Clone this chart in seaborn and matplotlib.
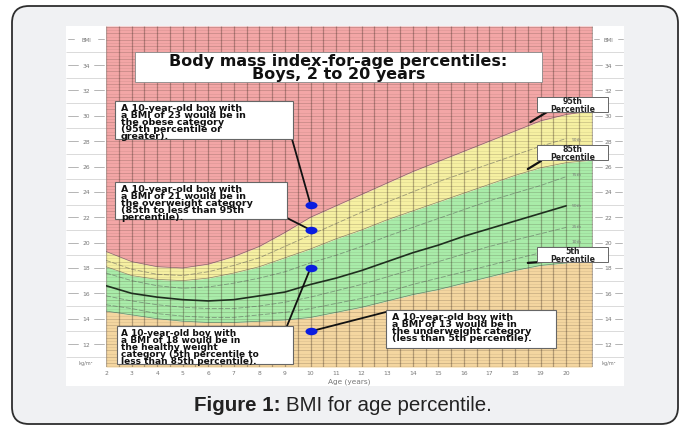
import numpy as np
import pandas as pd
import seaborn as sns
import matplotlib.pyplot as plt
from matplotlib.patches import FancyBboxPatch, Rectangle
from matplotlib.path import Path
from matplotlib.transforms import Affine2D

sns.set_style("white")
plt.rcParams["font.family"] = ["DejaVu Sans"]

# percentile band boundaries (boys BMI-for-age)
age = [2, 3, 4, 5, 6, 7, 8, 9, 10, 11, 12, 13, 14, 15, 16, 17, 18, 19, 20, 21]
p95 = [19.3, 18.5, 18.1, 18.0, 18.3, 18.9, 19.7, 20.8, 22.0, 22.9, 23.8, 24.7, 25.6, 26.4, 27.2, 28.0, 28.8, 29.6, 30.1, 30.4]
p85 = [18.1, 17.4, 17.1, 17.0, 17.2, 17.6, 18.1, 18.8, 19.5, 20.3, 21.0, 21.8, 22.5, 23.2, 23.9, 24.6, 25.3, 25.9, 26.3, 26.5]
p5 = [14.6, 14.3, 14.0, 13.8, 13.7, 13.7, 13.8, 13.9, 14.1, 14.5, 14.9, 15.4, 15.9, 16.3, 16.8, 17.3, 17.8, 18.2, 18.4, 18.6]

# inner percentile lines (end at age 20)
age_line = [2, 3, 4, 5, 6, 7, 8, 9, 10, 11, 12, 13, 14, 15, 16, 17, 18, 19, 20]
p50 = [16.6, 16.0, 15.7, 15.5, 15.4, 15.5, 15.8, 16.1, 16.7, 17.2, 17.8, 18.5, 19.2, 19.8, 20.5, 21.1, 21.7, 22.3, 22.9]
p90 = [18.6, 17.9, 17.5, 17.4, 17.7, 18.2, 18.8, 19.7, 20.6, 21.5, 22.4, 23.2, 24.0, 24.8, 25.5, 26.2, 26.9, 27.6, 28.2]
p75 = [17.6, 17.0, 16.6, 16.4, 16.5, 16.8, 17.2, 17.7, 18.4, 19.0, 19.7, 20.5, 21.2, 21.9, 22.6, 23.3, 23.9, 24.5, 25.2]
p25 = [15.8, 15.4, 15.1, 14.9, 14.8, 14.8, 15.0, 15.3, 15.7, 16.2, 16.7, 17.3, 17.9, 18.5, 19.1, 19.7, 20.2, 20.7, 21.2]
p10 = [15.1, 14.8, 14.4, 14.2, 14.1, 14.1, 14.3, 14.5, 14.8, 15.2, 15.6, 16.1, 16.7, 17.2, 17.7, 18.2, 18.7, 19.2, 19.6]
inner_names = ["90th", "75th", "50th", "25th", "10th"]
inner_label_bmi = [28.2, 25.4, 23.0, 21.3, 20.1]

# example boys at age 10
dot_age = [10, 10, 10, 10]
dot_bmi = [23, 21, 18, 13]

bmi_ticks = [12, 14, 16, 18, 20, 22, 24, 26, 28, 30, 32, 34]
age_ticks = list(range(2, 21))

notes = [
    "A 10-year-old boy with\na BMI of 23 would be in\nthe obese category\n(95th percentile or\ngreater).",
    "A 10-year-old boy with\na BMI of 21 would be in\nthe overweight category\n(85th to less than 95th\npercentile).",
    "A 10-year-old boy with\na BMI of 18 would be in\nthe healthy weight\ncategory (5th percentile to\nless than 85th percentile).",
    "A 10-year-old boy with\na BMI of 13 would be in\nthe underweight category\n(less than 5th percentile).",
]
pct_labels = ["95th\nPercentile", "85th\nPercentile", "5th\nPercentile"]

W, H = 683, 427
XMIN, XMAX = 2, 21.05
YMIN, YMAX = 10.19, 37.08
PL, PR, PT, PB = 106, 593, 27, 368

fig = plt.figure(figsize=(6.83, 4.27), dpi=100)
fig.patch.set_facecolor("white")

card = FancyBboxPatch((0.12, 0.02), 6.66, 4.18, boxstyle="round,pad=0,rounding_size=0.17",
                      transform=fig.dpi_scale_trans, fc="#f0f1f3", ec="#2e2e2e", lw=1.3, zorder=-2)
fig.add_artist(card)
fig.add_artist(Rectangle((0.66, 0.40), 5.58, 3.60, transform=fig.dpi_scale_trans, fc="white",
                         ec="none", zorder=-1))


def fig_rect(x0, x1):
    return [x0 / W, 1 - PB / H, (x1 - x0) / W, (PB - PT) / H]


def ax_pos(x, y):
    return (x - PL) / (PR - PL), (PB - y) / (PB - PT)


ax = fig.add_axes(fig_rect(PL, PR))
ax_l = fig.add_axes(fig_rect(66, PL))
ax_r = fig.add_axes(fig_rect(PR, 624))
for a in [ax, ax_l, ax_r]:
    a.set_facecolor("none")
ax.set_zorder(2)

# coloured bands
red, yellow, green, tan = "#f3a6a6", "#f6f0a2", "#a9eca9", "#f4d6a0"
ax.fill_between(age, YMIN, p5, color=tan, lw=0, zorder=1)
ax.fill_between(age, p5, p85, color=green, lw=0, zorder=1)
ax.fill_between(age, p85, p95, color=yellow, lw=0, zorder=1)
ax.fill_between(age, p95, YMAX, color=red, lw=0, zorder=1)

# chart grid
ax.vlines(np.arange(2, 21.01, 0.5), YMIN, YMAX, color="#3a2a20", alpha=0.35, lw=0.9, zorder=2)
ax.hlines(np.arange(10.5, 37.01, 0.5), XMIN, XMAX, color="#3a2a20", alpha=0.22, lw=0.6, zorder=2)
ax.hlines(np.arange(10.25, 37.01, 0.5), XMIN, XMAX, color="#3a2a20", alpha=0.10, lw=0.5, zorder=2)

# percentile curves
for vals in [p95, p85, p5]:
    sns.lineplot(x=age, y=vals, ax=ax, color="#444444", lw=0.5, alpha=0.6, zorder=3)
for vals in [p90, p75, p25, p10]:
    sns.lineplot(x=age_line, y=vals, ax=ax, color="#555555", lw=0.6, alpha=0.55,
                 linestyle=(0, (6, 2)), zorder=3)
sns.lineplot(x=age_line, y=p50, ax=ax, color="#1f2f1f", lw=1.2, zorder=3)
for yv, name in zip(inner_label_bmi, inner_names):
    ax.text(20.4, yv, name, fontsize=3.2, color="#777777", ha="center", va="center", zorder=3)


# annotation boxes
def note_box(x0, y0, x1, y1, text, tx, ty, fs=6.8):
    a0, b0 = ax_pos(x0, y1)
    a1, b1 = ax_pos(x1, y0)
    ax.add_patch(Rectangle((a0, b0), a1 - a0, b1 - b0, transform=ax.transAxes, fc="white",
                           ec="#666666", lw=0.8, zorder=6, clip_on=False))
    ta, tb = ax_pos(tx, ty)
    ax.text(ta, tb, text, transform=ax.transAxes, fontsize=fs, fontweight="bold", color="#111111",
            ha="left", va="top", linespacing=0.7, zorder=7, clip_on=False)


def leader(px, py, xd, yd, lw=1.3):
    ax.annotate("", xy=(xd, yd), xycoords="data", xytext=ax_pos(px, py), textcoords="axes fraction",
                arrowprops=dict(arrowstyle="-", color="#111111", lw=lw, shrinkA=0, shrinkB=0), zorder=5)


note_box(115, 102, 293, 140, notes[0], 121, 104)
note_box(115, 183, 287, 220, notes[1], 121, 185)
note_box(117, 327, 293, 365, notes[2], 121, 329, fs=6.5)
note_box(386, 311, 556, 349, notes[3], 392, 313)
leader(292, 140, dot_age[0], dot_bmi[0])
leader(287, 219, dot_age[1], dot_bmi[1])
leader(287, 327, dot_age[2], dot_bmi[2])
leader(386, 313, dot_age[3], dot_bmi[3])

# title box
ta0, tb0 = ax_pos(135, 83)
ta1, tb1 = ax_pos(542, 53)
ax.add_patch(Rectangle((ta0, tb0), ta1 - ta0, tb1 - tb0, transform=ax.transAxes, fc="white",
                       ec="#888888", lw=0.6, zorder=6))
ax.text((ta0 + ta1) / 2, (tb0 + tb1) / 2, "Body mass index-for-age percentiles:\nBoys, 2 to 20 years",
        transform=ax.transAxes, ha="center", va="center", fontsize=11.5, fontweight="bold",
        color="#111111", linespacing=0.8, zorder=7)

# percentile tags
for lab, yc, seg in zip(pct_labels, [105.5, 153.5, 255.5],
                        [((547, 113), (18.6, 29.5)), ((541, 162), (18.5, 25.8)), ((541, 263), (18.5, 18.4))]):
    a0, b0 = ax_pos(537, yc + 7.5)
    a1, b1 = ax_pos(608, yc - 7.5)
    ax.add_patch(Rectangle((a0, b0), a1 - a0, b1 - b0, transform=ax.transAxes, fc="white",
                           ec="#666666", lw=0.7, zorder=6, clip_on=False))
    ax.text((a0 + a1) / 2, (b0 + b1) / 2, lab, transform=ax.transAxes, ha="center", va="center",
            fontsize=5.6, fontweight="bold", color="#222222", linespacing=0.8, zorder=7, clip_on=False)
    leader(seg[0][0], seg[0][1], seg[1][0], seg[1][1], lw=1.6)

# blue dots (slightly wide ellipse marker)
ell = Path.unit_circle().transformed(Affine2D().scale(1.0, 0.62))
sns.scatterplot(x=dot_age, y=dot_bmi, ax=ax, marker=ell, s=75, color="#0b1de0", edgecolor="#0b1de0",
                linewidth=0, zorder=8, legend=False)

ax.set_xlim(XMIN, XMAX)
ax.set_ylim(YMIN, YMAX)
ax.set_xticks(age_ticks)
ax.set_xticklabels([str(a) for a in age_ticks])
ax.set_yticks([])
ax.tick_params(axis="x", length=0, pad=2.5, labelsize=4.3, labelcolor="#777777")
ax.set_xlabel("Age (years)", fontsize=5.3, color="#777777", labelpad=1.5)
ax.set_ylabel("")
for sp in ax.spines.values():
    sp.set_visible(False)

# side margins with BMI scale
for m in [ax_l, ax_r]:
    m.set_xlim(0, 1)
    m.set_ylim(YMIN, YMAX)
    m.axis("off")
    m.hlines(np.arange(11, 37, 2), 0, 1, color="#d4d4d4", lw=0.6)
    for v in bmi_ticks:
        m.text(0.5, v, str(v), fontsize=4.3, color="#777777", ha="center", va="center")
        m.plot([0.06, 0.3], [v, v], color="#aaaaaa", lw=0.6)
        m.plot([0.7, 0.94], [v, v], color="#aaaaaa", lw=0.6)
    m.text(0.5, 36.05, "BMI", fontsize=4.0, color="#777777", ha="center", va="center")
    m.plot([0.04, 0.2], [36.05, 36.05], color="#aaaaaa", lw=0.6)
    m.plot([0.8, 0.96], [36.05, 36.05], color="#aaaaaa", lw=0.6)
    m.text(0.5, 10.55, "kg/m²", fontsize=3.6, color="#777777", ha="center", va="center")

# caption
fig.text(280 / W, 1 - 406 / H, "Figure 1:", fontsize=14.8, fontweight="bold", family="Liberation Sans",
         ha="right", va="center", color="#222222")
fig.text(286 / W, 1 - 406 / H, "BMI for age percentile.", fontsize=14.8, family="Liberation Sans",
         ha="left", va="center", color="#222222")

fig.savefig("out.png", dpi=100)
